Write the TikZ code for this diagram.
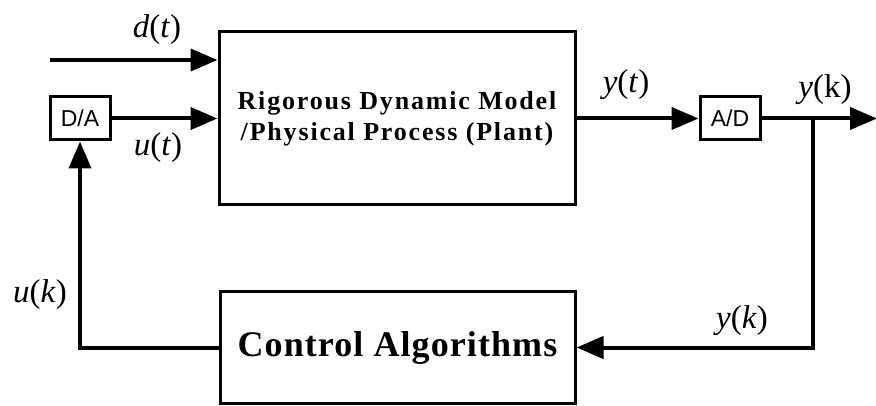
\documentclass[tikz,border=0pt]{standalone}
\usepackage{fontspec}
\setmainfont{Liberation Serif}
\newfontfamily\labelsans{Liberation Sans}
\usetikzlibrary{arrows.meta}
\newcommand{\sig}[2]{\textit{#1}(\textit{#2})}
\begin{document}
\begin{tikzpicture}[x=1pt,y=-1pt,
  block/.style={draw,line width=3pt,rectangle,inner sep=0pt,align=center},
  conv/.style={draw,line width=3pt,rectangle,inner sep=0pt,minimum width=60pt,minimum height=43pt,font=\labelsans\fontsize{23}{25}\selectfont},
  wire/.style={line width=4pt},
  sigarrow/.style={wire,-{Triangle[length=27pt,width=22pt]}},
  sigtext/.style={font=\fontsize{33}{36}\selectfont,inner sep=0pt}]
  \useasboundingbox (0,0) rectangle (876,406);

  % blocks
  \node[block,minimum width=356pt,minimum height=173pt,
        font=\bfseries\fontsize{26}{31}\selectfont\addfontfeature{LetterSpace=7}] (plant) at (397,118.5)
    {Rigorous Dynamic Model\\/Physical Process (Plant)};
  \node[block,minimum width=355pt,minimum height=111pt,
        font=\bfseries\fontsize{36}{40}\selectfont\addfontfeature{LetterSpace=3}] (ctrl) at (397.5,347.5)
    {Control Algorithms};
  \node[conv] (da) at (80,118.5) {D/A};
  \node[conv] (ad) at (730,118.5) {A/D};

  % free ends and branch point
  \coordinate (din) at (50,60);
  \coordinate (out) at (877,118.5);
  \coordinate (br) at (813,118.5);

  % forward path
  \draw[sigarrow] (din) -- (din -| plant.west);
  \draw[sigarrow] (da.east) -- (plant.west);
  \draw[sigarrow] (plant.east) -- (ad.west);
  \draw[sigarrow] (ad.east) -- (out);

  % feedback path
  \draw[sigarrow] (br) |- (ctrl.east);
  \draw[sigarrow] (ctrl.west) -| (da.south);

  % labels
  \node[sigtext] (ld) at (157,30) {\sig{d}{t}};
  \node[sigtext] (lu) at (158,148) {\sig{u}{t}};
  \node[sigtext] (lyt) at (626,85) {\sig{y}{t}};
  \node[sigtext] (lyk) at (825,90) {\textit{y}(k)};
  \node[sigtext] (luk) at (40,295) {\sig{u}{k}};
  \node[sigtext] (lyk2) at (742,321) {\sig{y}{k}};
\end{tikzpicture}
\end{document}
